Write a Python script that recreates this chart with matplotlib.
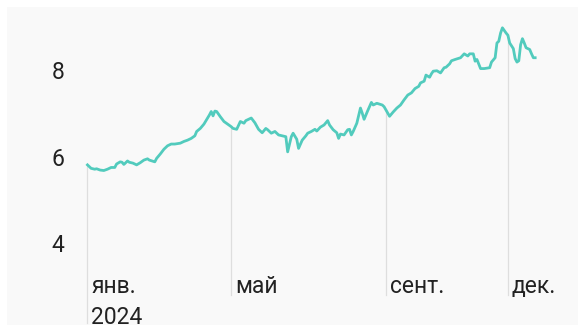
import numpy as np
import matplotlib
matplotlib.use('Agg')
import matplotlib.pyplot as plt
import matplotlib.patches as mpatches
import matplotlib.transforms as mtransforms

plt.rcParams['font.family'] = ['Roboto', 'DejaVu Sans']

# торговые дни 2024 (индекс) и значения
days = [0, 2, 4, 5, 7, 9, 11, 13, 15, 16, 18, 19, 20, 22, 23, 25, 27, 29, 31, 33,
        34, 37, 38, 40, 42, 44, 46, 48, 51, 53, 55, 57, 59, 60, 62, 64, 66, 67, 68, 69,
        70, 71, 73, 75, 77, 79, 80, 82, 84, 86, 87, 90, 92, 94, 96, 98, 99, 101, 103, 105,
        107, 109, 110, 112, 113, 115, 116, 118, 120, 121, 123, 125, 126, 128, 130, 132, 133, 135, 137, 138,
        139, 141, 143, 144, 145, 146, 148, 150, 151, 152, 154, 156, 157, 159, 162, 163, 165, 166, 168, 170,
        172, 174, 176, 178, 180, 182, 183, 185, 186, 188, 189, 190, 192, 194, 196, 197, 199, 200, 202, 205,
        207, 209, 210, 212, 213, 214, 216, 218, 221, 222, 224, 225, 226, 227, 228, 230, 231, 232, 234, 235,
        236, 237, 238, 239, 240, 241, 243, 244, 245, 246]
values = [5.81, 5.73, 5.71, 5.72, 5.69, 5.68, 5.71, 5.75, 5.75, 5.83, 5.88, 5.87, 5.82, 5.90, 5.87, 5.85, 5.81, 5.86, 5.92, 5.95,
          5.92, 5.88, 5.96, 6.06, 6.17, 6.25, 6.29, 6.29, 6.31, 6.35, 6.38, 6.42, 6.48, 6.58, 6.65, 6.75, 6.89, 6.96, 7.04, 6.94,
          7.05, 7.04, 6.92, 6.81, 6.75, 6.69, 6.65, 6.63, 6.81, 6.77, 6.83, 6.89, 6.78, 6.63, 6.55, 6.65, 6.62, 6.54, 6.58, 6.50,
          6.48, 6.46, 6.11, 6.46, 6.54, 6.40, 6.19, 6.38, 6.48, 6.54, 6.58, 6.63, 6.59, 6.68, 6.73, 6.83, 6.73, 6.62, 6.55, 6.42,
          6.52, 6.50, 6.62, 6.63, 6.50, 6.58, 6.77, 7.12, 7.00, 6.86, 7.06, 7.25, 7.19, 7.23, 7.19, 7.15, 7.00, 6.93, 7.03, 7.12,
          7.19, 7.31, 7.42, 7.47, 7.57, 7.62, 7.70, 7.74, 7.88, 7.83, 7.91, 7.97, 7.98, 7.93, 8.05, 8.06, 8.14, 8.21, 8.24, 8.28,
          8.37, 8.32, 8.37, 8.37, 8.20, 8.24, 8.03, 8.03, 8.05, 8.18, 8.28, 8.62, 8.66, 8.85, 8.97, 8.85, 8.80, 8.62, 8.49, 8.26,
          8.18, 8.21, 8.58, 8.72, 8.62, 8.51, 8.47, 8.37, 8.28, 8.28]

month_days = [0, 79, 164, 231]
month_labels = ['янв.\n2024', 'май', 'сент.', 'дек.']
y_ticks = [4, 6, 8]

line_color = '#52cbbd'
text_color = '#222222'

fig = plt.figure(figsize=(5.78, 3.29), dpi=100)
fig.patch.set_facecolor('white')
panel = mpatches.Rectangle((7 / 578, 4 / 329), 1, 1 - 11 / 329,
                           transform=fig.transFigure, facecolor='#f9f9f9',
                           edgecolor='none', zorder=-10)
fig.add_artist(panel)

ax = fig.add_axes([80 / 578, 1 - 272 / 329, 465 / 578, 252 / 329])
ax.set_zorder(5)
ax.set_facecolor('none')
ax.set_xlim(-4.1, 251.4)
ax.set_ylim(3.34, 9.15)
for s in ax.spines.values():
    s.set_visible(False)

# вертикальные линии от кривой вниз
tops = np.interp(month_days, days, values)
for i, (d, t) in enumerate(zip(month_days, tops)):
    bottom = 2.16 if i == 0 else 2.81
    ax.plot([d, d], [bottom, t], color='#dedede', lw=0.9, clip_on=False, zorder=1)

ax.plot(days, values, color=line_color, lw=2.0, solid_joinstyle='round', zorder=3)

ax.set_yticks(y_ticks)
ax.set_yticklabels([str(v) for v in y_ticks])
ax.tick_params(axis='y', length=0, pad=11, labelsize=16.5, labelcolor=text_color)

ax.set_xticks(month_days)
ax.set_xticklabels(month_labels)
ax.tick_params(axis='x', length=0, pad=2.5, labelsize=16.5, labelcolor=text_color)
offset = mtransforms.ScaledTranslation(4 / 100, 0, fig.dpi_scale_trans)
for lab in ax.get_xticklabels():
    lab.set_horizontalalignment('left')
    lab.set_linespacing(1.4)
    lab.set_transform(lab.get_transform() + offset)

fig.savefig('out.png', dpi=100)
